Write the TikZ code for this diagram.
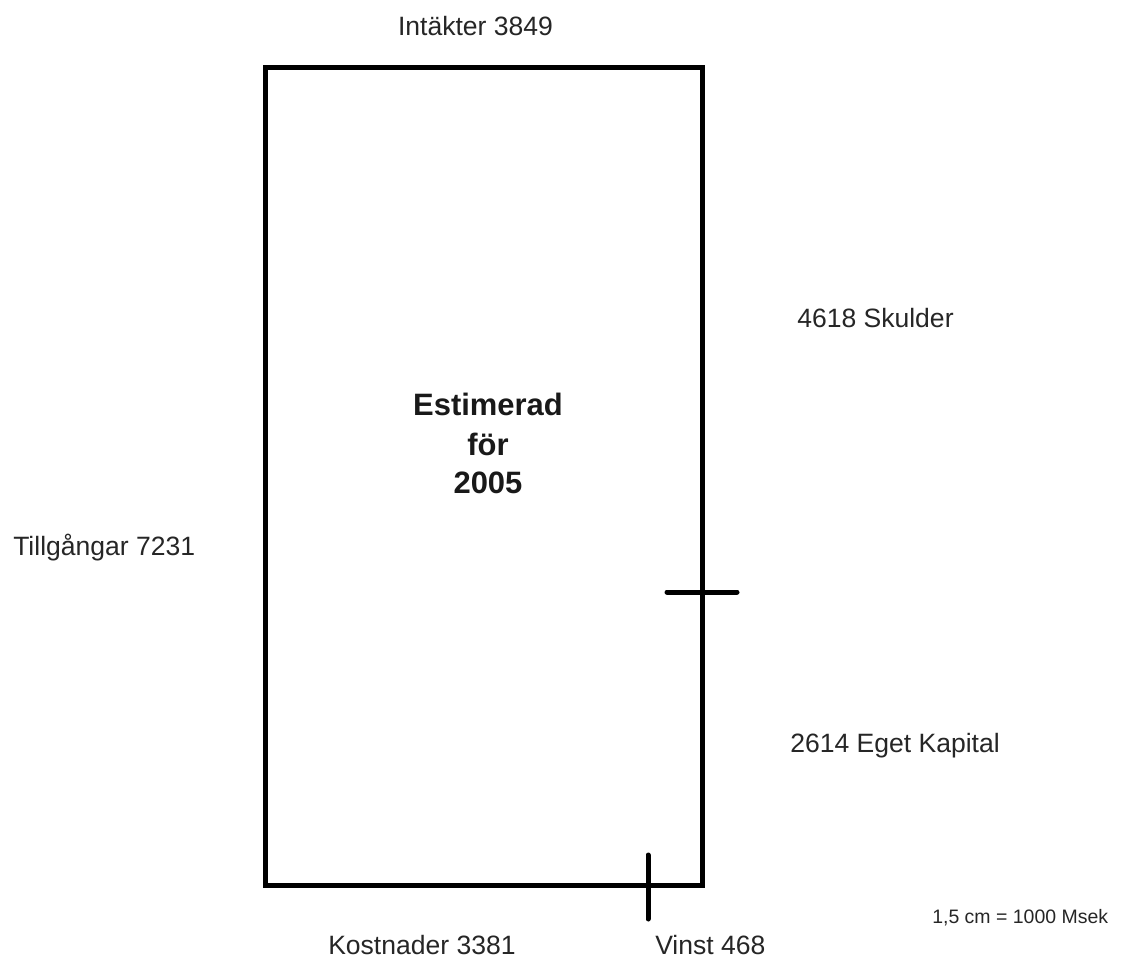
\documentclass[tikz,border=0pt]{standalone}
\usepackage{fontspec}
\setmainfont{Liberation Sans}
\begin{document}
\begin{tikzpicture}[x=0.75pt,y=-0.75pt,
  lbl/.style={inner sep=0pt,text=black!85,font=\fontsize{19.9}{24}\selectfont},
  ttl/.style={inner sep=0pt,anchor=base,text=black!90,font=\fontsize{23.2}{28}\selectfont\bfseries},
  small/.style={inner sep=0pt,text=black!85,font=\fontsize{14.6}{18}\selectfont},
  frame/.style={line width=3.75pt,line join=miter},
  tick/.style={line width=3.75pt,line cap=round}]
\useasboundingbox[fill=white] (0,0) rectangle (1134,960);
\coordinate (tl) at (265,67);
\coordinate (br) at (702,885);
\draw[frame] (tl) rectangle (br);
\coordinate (rt1) at (667,592);
\coordinate (rt2) at (737,592);
\draw[tick] (rt1) -- (rt2);
\coordinate (bt1) at (648,855);
\coordinate (bt2) at (648,919);
\draw[tick] (bt1) -- (bt2);
\node[lbl,anchor=base] (int) at (475.5,35) {Intäkter 3849};
\node[lbl,anchor=base west] (sku) at (797,327) {4618 Skulder};
\node[lbl,anchor=base west] (til) at (13,555) {Tillgångar 7231};
\node[lbl,anchor=base west] (eget) at (790,752) {2614 Eget Kapital};
\node[lbl,anchor=base west] (kost) at (328,954) {Kostnader 3381};
\node[lbl,anchor=base west] (vin) at (655,954) {Vinst 468};
\node[small,anchor=base west] (skala) at (932,923) {1,5 cm = 1000 Msek};
\node[ttl] (t1) at (488,415) {Estimerad};
\node[ttl] (t2) at (488,455) {för};
\node[ttl] (t3) at (488,493) {2005};
\end{tikzpicture}
\end{document}
